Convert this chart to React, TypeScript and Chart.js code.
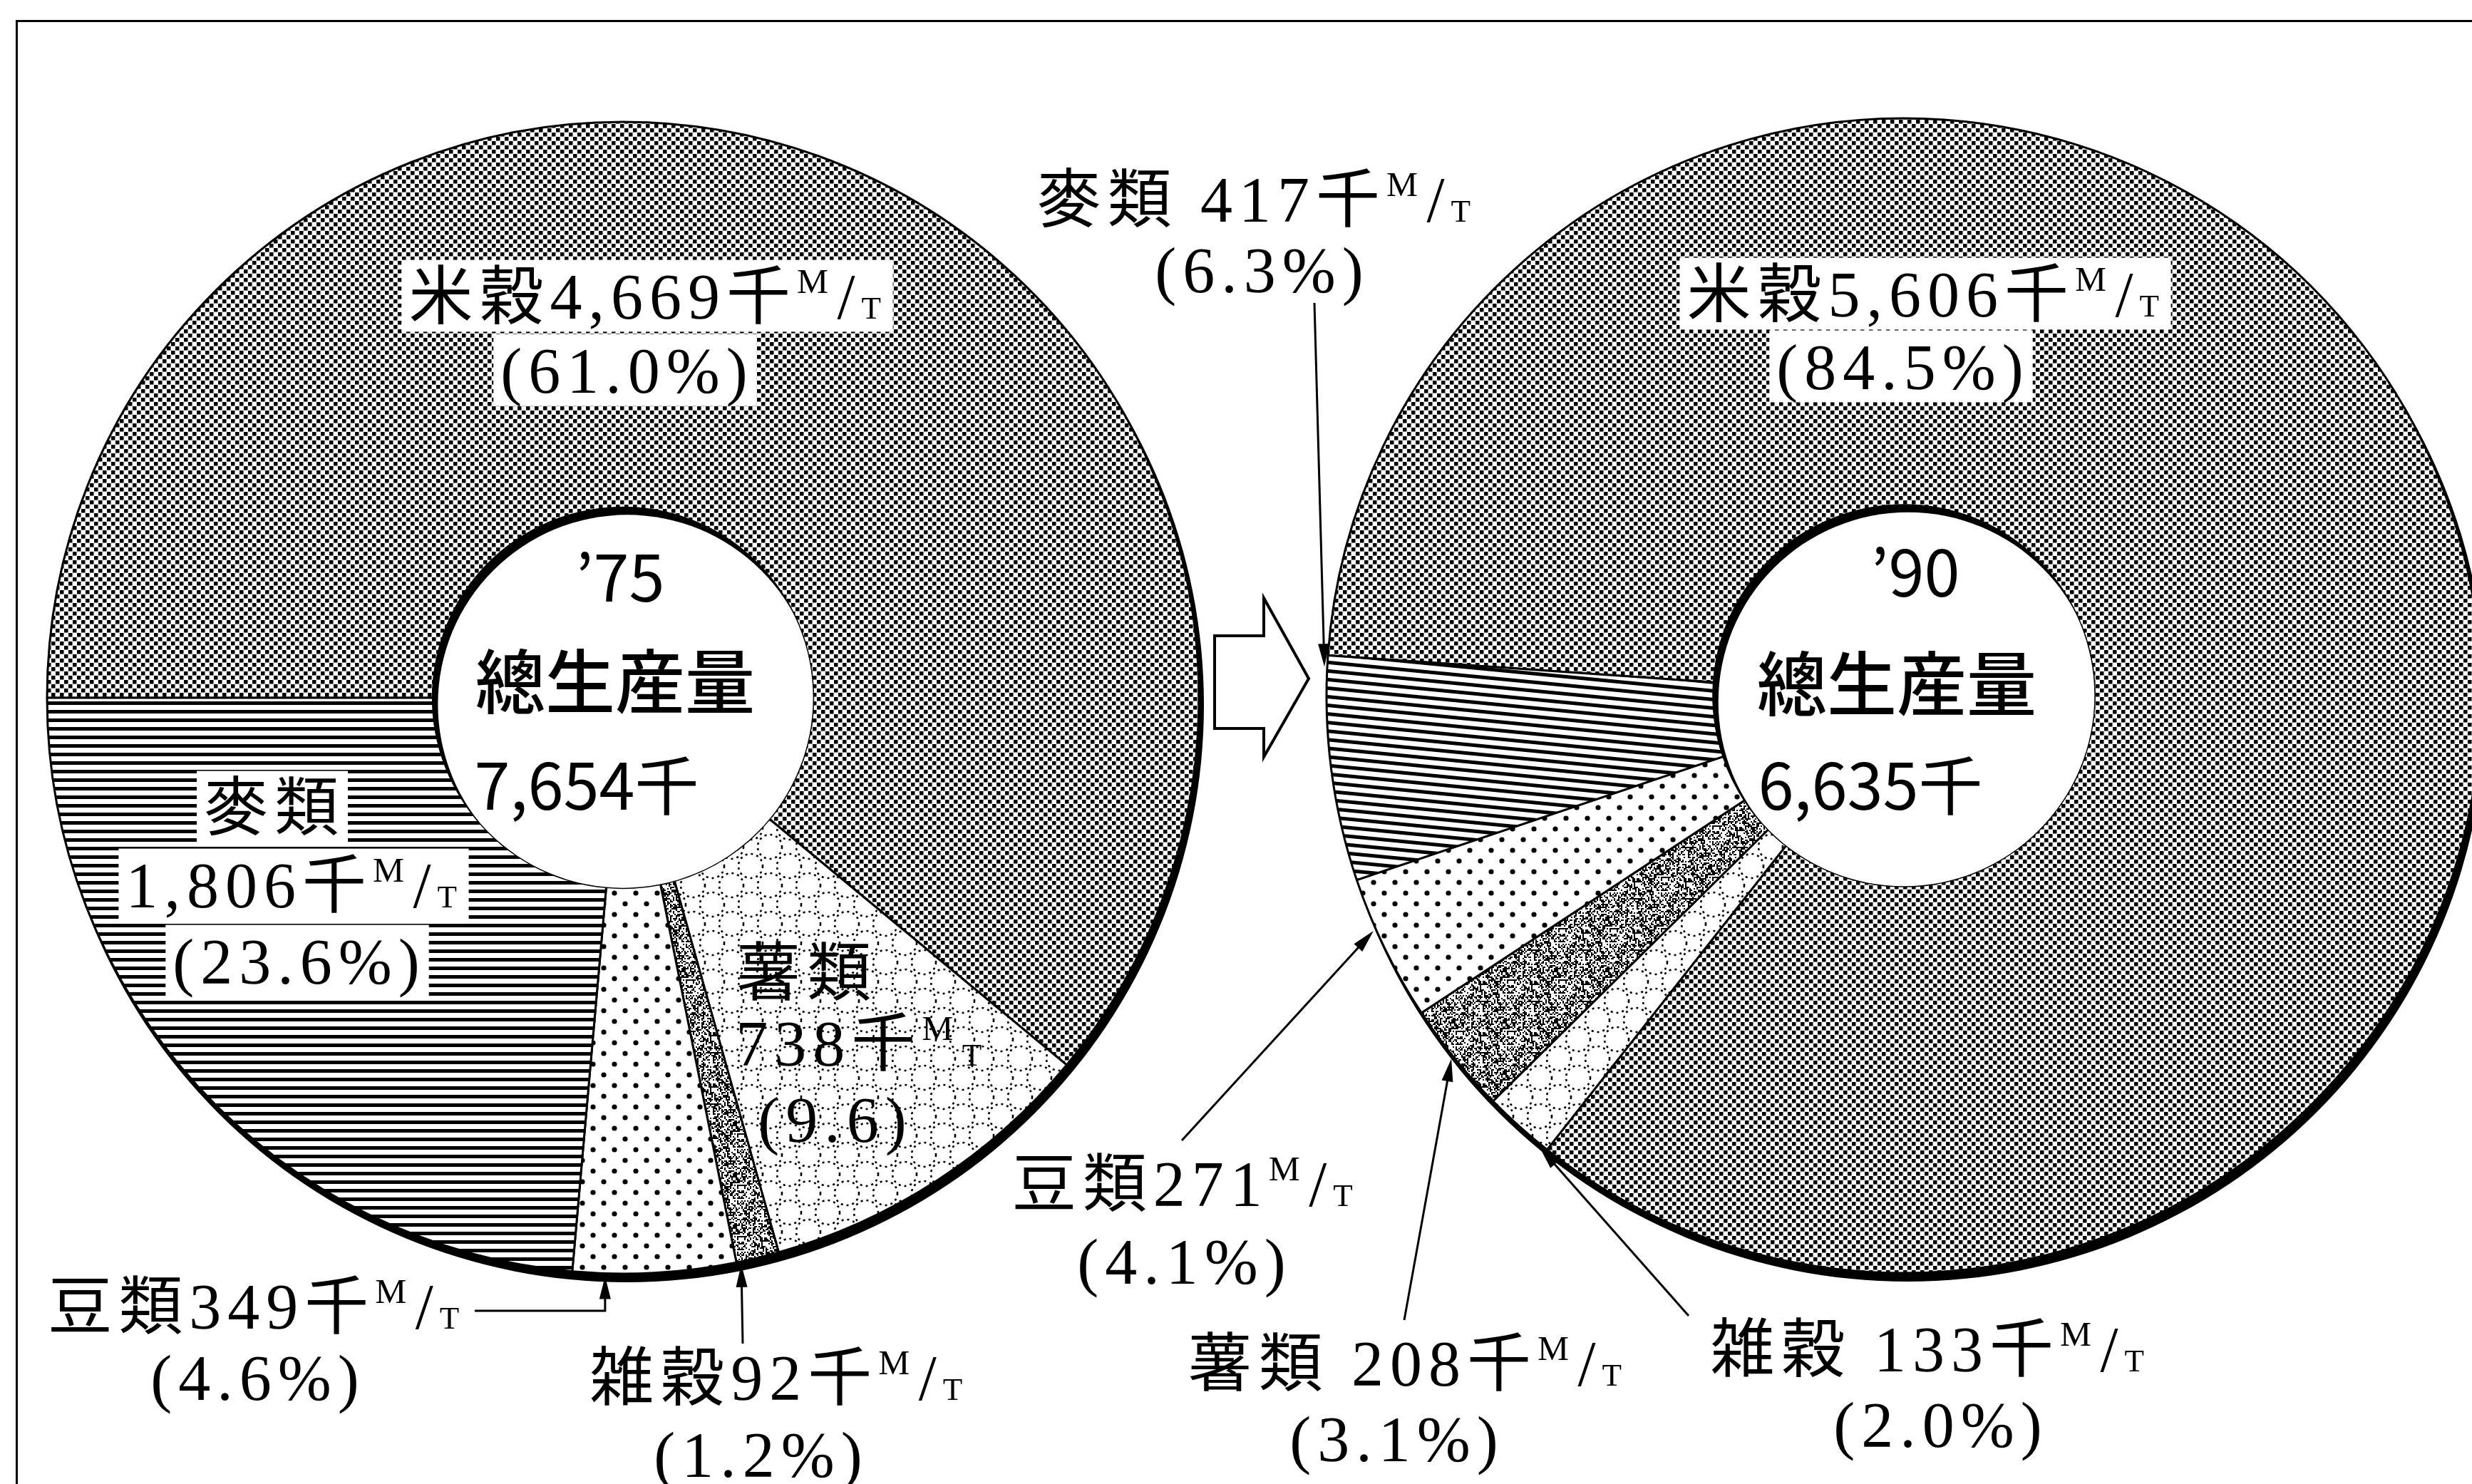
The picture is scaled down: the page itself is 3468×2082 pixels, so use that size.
import React, { useEffect, useRef } from 'react';
import { Chart, registerables } from 'chart.js';

Chart.register(...registerables);

const W = 3468;
const H = 2082;

// ---- '75 data (thousand metric tons), clockwise from 9 o'clock ----
const categories75 = ['米穀', '薯類', '雑穀', '豆類', '麥類'];
const values75 = [4669, 738, 92, 349, 1806];
const shares75 = [61.0, 9.6, 1.2, 4.6, 23.6];
const year75 = '’75';
const total75 = '7,654千';

// ---- '90 data ----
const categories90 = ['米穀', '雑穀', '薯類', '豆類', '麥類'];
const values90 = [5606, 133, 208, 271, 417];
const shares90 = [84.5, 2.0, 3.1, 4.1, 6.3];
const year90 = '’90';
const total90 = '6,635千';

const centerTitle = '總生産量';

const SERIF = '"Liberation Serif", "Noto Sans CJK JP", serif';
const SANS = '"Noto Sans CJK JP", "Noto Sans", sans-serif';

// ---------- pattern helpers ----------
function tile(w: number, h: number, draw: (c: CanvasRenderingContext2D) => void) {
  const cv = document.createElement('canvas');
  cv.width = w;
  cv.height = h;
  const c = cv.getContext('2d')!;
  c.fillStyle = '#fff';
  c.fillRect(0, 0, w, h);
  c.fillStyle = '#000';
  c.strokeStyle = '#000';
  draw(c);
  return cv;
}

function hash2(x: number, y: number, s: number) {
  let h = Math.imul(x, 374761393) ^ Math.imul(y, 668265263) ^ Math.imul(s, 1442695041);
  h = Math.imul(h ^ (h >>> 13), 1274126177);
  h ^= h >>> 16;
  return (h >>> 0) / 4294967296;
}

function makePatterns(ctx: CanvasRenderingContext2D, stripeAngle: number) {
  const rice = ctx.createPattern(
    tile(12, 12, (c) => {
      c.fillRect(0, 0, 5.5, 5.5);
      c.fillRect(6, 6, 5.5, 5.5);
    }),
    'repeat'
  )!;
  const circles = ctx.createPattern(
    tile(54, 54, (c) => {
      c.lineWidth = 2.6;
      c.setLineDash([3, 5]);
      const pts = [
        [27, 27],
        [0, 0],
        [54, 0],
        [0, 54],
        [54, 54],
      ];
      for (const [x, y] of pts) {
        c.beginPath();
        c.arc(x, y, 17, 0, Math.PI * 2);
        c.stroke();
      }
    }),
    'repeat'
  )!;
  const stipple = ctx.createPattern(
    tile(72, 72, (c) => {
      for (let i = 0; i < 36; i++)
        for (let j = 0; j < 36; j++) if (hash2(i, j, 7) < 0.46) c.fillRect(i * 2, j * 2, 2, 2);
    }),
    'repeat'
  )!;
  const dots = ctx.createPattern(
    tile(30, 30, (c) => {
      for (const [x, y] of [
        [7, 8],
        [22, 23],
      ]) {
        c.beginPath();
        c.arc(x, y, 3.6, 0, Math.PI * 2);
        c.fill();
      }
    }),
    'repeat'
  )!;
  const stripes = ctx.createPattern(
    tile(12, 12, (c) => {
      c.fillRect(0, 0, 12, 5);
    }),
    'repeat'
  )!;
  if (stripeAngle) stripes.setTransform(new DOMMatrix().rotateSelf(stripeAngle));
  return [rice, circles, stipple, dots, stripes];
}

// ---------- text helpers ----------
type Run = { t: string; k: 'n' | 'sup' | 'sub' };
function parseRuns(s: string): Run[] {
  const runs: Run[] = [];
  for (let i = 0; i < s.length; i++) {
    const ch = s[i];
    if (ch === '^') runs.push({ t: s[++i], k: 'sup' });
    else if (ch === '_') runs.push({ t: s[++i], k: 'sub' });
    else if (runs.length && runs[runs.length - 1].k === 'n') runs[runs.length - 1].t += ch;
    else runs.push({ t: ch, k: 'n' });
  }
  return runs;
}

function drawRuns(
  ctx: CanvasRenderingContext2D,
  s: string,
  cx: number,
  cy: number,
  size: number,
  box: boolean
) {
  const runs = parseRuns(s);
  const fontFor = (k: Run['k']) => `${k === 'n' ? size : k === 'sup' ? size * 0.55 : size * 0.5}px ${SERIF}`;
  ctx.save();
  (ctx as any).letterSpacing = '9px';
  const widths: number[] = [];
  let total = 0;
  for (const r of runs) {
    ctx.font = fontFor(r.k);
    const w = ctx.measureText(r.t).width + (r.k !== 'n' ? size * 0.04 : 0);
    widths.push(w);
    total += w;
  }
  let x = cx - total / 2;
  const base = cy + size * 0.36;
  if (box) {
    ctx.fillStyle = '#fff';
    ctx.fillRect(x - 10, cy - size * 0.56, total + 14, size * 1.12);
  }
  ctx.fillStyle = '#000';
  ctx.textAlign = 'left';
  ctx.textBaseline = 'alphabetic';
  runs.forEach((r, i) => {
    ctx.font = fontFor(r.k);
    const dy = r.k === 'sup' ? -size * 0.4 : 0;
    ctx.fillText(r.t, x, base + dy);
    x += widths[i];
  });
  ctx.restore();
}

function arrowTo(ctx: CanvasRenderingContext2D, pts: number[][]) {
  ctx.save();
  ctx.strokeStyle = '#000';
  ctx.fillStyle = '#000';
  ctx.lineWidth = 3;
  const n = pts.length;
  const [tx, ty] = pts[n - 1];
  const [px, py] = pts[n - 2];
  const ang = Math.atan2(ty - py, tx - px);
  const L = 32;
  const hw = 8;
  ctx.beginPath();
  ctx.moveTo(pts[0][0], pts[0][1]);
  for (let i = 1; i < n - 1; i++) ctx.lineTo(pts[i][0], pts[i][1]);
  ctx.lineTo(tx - Math.cos(ang) * L * 0.8, ty - Math.sin(ang) * L * 0.8);
  ctx.stroke();
  ctx.beginPath();
  ctx.moveTo(tx, ty);
  ctx.lineTo(tx - Math.cos(ang) * L - Math.sin(ang) * hw, ty - Math.sin(ang) * L + Math.cos(ang) * hw);
  ctx.lineTo(tx - Math.cos(ang) * L + Math.sin(ang) * hw, ty - Math.sin(ang) * L - Math.cos(ang) * hw);
  ctx.closePath();
  ctx.fill();
  ctx.restore();
}

// ---------- label layout (offsets from the ring centre) ----------
type LabelCfg = {
  split?: boolean;
  gap?: boolean;
  noThousand?: boolean;
  unit?: string;
  noPct?: boolean;
  box?: boolean;
  lines: number[][];
  arrow?: { from: number[]; t: number; elbow?: boolean };
};

const labels75: LabelCfg[] = [
  { box: true, lines: [[37, -564], [6, -460]] },
  { split: true, unit: '^M_T', noPct: true, lines: [[258, 385], [337, 484], [298, 591]] },
  { lines: [[221, 953], [194, 1061]], arrow: { from: [168, 906], t: 0.9 } },
  { lines: [[-512, 853], [-512, 953]], arrow: { from: [-208, 860], t: 0.8, elbow: true } },
  { split: true, box: true, lines: [[-489, 153], [-459, 262], [-454, 369]] },
];

const labels90: LabelCfg[] = [
  { box: true, lines: [[33, -564], [-1, -462]] },
  { gap: true, lines: [[39, 916], [52, 1022]], arrow: { from: [-302, 870], t: 0.1 } },
  { gap: true, lines: [[-694, 936], [-711, 1042]], arrow: { from: [-701, 876], t: 0.52 } },
  { noThousand: true, lines: [[-1006, 684], [-1009, 793]], arrow: { from: [-1013, 624], t: 0.64 } },
  { gap: true, lines: [[-906, -697], [-900, -598]], arrow: { from: [-827, -551], t: 0.95 } },
];

const centre75 = [[-4, -169], [-11, -23], [-51, 123]];
const centre90 = [[16, -173], [-10, -17], [-47, 126]];

function labelLines(name: string, value: number, share: number, cfg: LabelCfg) {
  const num = value.toLocaleString('en-US') + (cfg.noThousand ? '' : '千') + (cfg.unit ?? '^M/_T');
  const pct = '(' + share.toFixed(1) + (cfg.noPct ? '' : '%') + ')';
  if (cfg.split) return [name, num, pct];
  return [name + (cfg.gap ? ' ' : '') + num, pct];
}

function overlayPlugin(
  id: string,
  cats: string[],
  vals: number[],
  shares: number[],
  cfgs: LabelCfg[],
  centre: number[][],
  year: string,
  total: string,
  drawBlockArrow: boolean
) {
  return {
    id,
    beforeDatasetsDraw(chart: any) {
      const a = chart.getDatasetMeta(0).data[0];
      const ctx: CanvasRenderingContext2D = chart.ctx;
      ctx.save();
      ctx.fillStyle = '#000';
      ctx.beginPath();
      ctx.arc(a.x + 5, a.y + 10, a.outerRadius + 2, 0, Math.PI * 2);
      ctx.fill();
      ctx.restore();
    },
    afterDatasetsDraw(chart: any) {
      const meta = chart.getDatasetMeta(0);
      const a0 = meta.data[0];
      const cx = a0.x;
      const cy = a0.y;
      const ri = a0.innerRadius;
      const ro = a0.outerRadius;
      const ctx: CanvasRenderingContext2D = chart.ctx;
      // hole with its heavy upper-left edge
      ctx.save();
      ctx.beginPath();
      ctx.arc(cx, cy, ri, 0, Math.PI * 2);
      ctx.clip();
      ctx.fillStyle = '#000';
      ctx.fillRect(cx - ri - 2, cy - ri - 2, ri * 2 + 4, ri * 2 + 4);
      ctx.fillStyle = '#fff';
      ctx.beginPath();
      ctx.arc(cx + 6, cy + 9, ri - 1, 0, Math.PI * 2);
      ctx.fill();
      ctx.restore();

      // centre text
      ctx.save();
      ctx.fillStyle = '#000';
      ctx.textAlign = 'center';
      ctx.textBaseline = 'middle';
      ctx.font = `400 90px ${SANS}`;
      ctx.fillText(year, cx + centre[0][0], cy + centre[0][1]);
      ctx.font = `500 98px ${SANS}`;
      ctx.fillText(centerTitle, cx + centre[1][0], cy + centre[1][1]);
      ctx.font = `400 90px ${SANS}`;
      ctx.fillText(total, cx + centre[2][0], cy + centre[2][1]);
      ctx.restore();

      // labels & leader arrows
      cfgs.forEach((cfg, i) => {
        const lines = labelLines(cats[i], vals[i], shares[i], cfg);
        lines.forEach((s, k) => {
          drawRuns(ctx, s, cx + cfg.lines[k][0], cy + cfg.lines[k][1], 90, !!cfg.box);
        });
        if (cfg.arrow) {
          const arc = meta.data[i];
          const ang = arc.startAngle + cfg.arrow.t * (arc.endAngle - arc.startAngle);
          const tip = [cx + (ro + 4) * Math.cos(ang), cy + (ro + 4) * Math.sin(ang)];
          const start = [cx + cfg.arrow.from[0], cy + cfg.arrow.from[1]];
          const pts = cfg.arrow.elbow ? [start, [tip[0], start[1]], tip] : [start, tip];
          arrowTo(ctx, pts);
        }
      });

      if (drawBlockArrow) {
        ctx.save();
        ctx.lineWidth = 4;
        ctx.strokeStyle = '#000';
        ctx.fillStyle = '#fff';
        ctx.lineJoin = 'miter';
        ctx.beginPath();
        ctx.moveTo(1704, 892);
        ctx.lineTo(1773, 892);
        ctx.lineTo(1773, 839);
        ctx.lineTo(1836, 952);
        ctx.lineTo(1773, 1062);
        ctx.lineTo(1773, 1022);
        ctx.lineTo(1704, 1022);
        ctx.closePath();
        ctx.fill();
        ctx.stroke();
        ctx.restore();
      }
    },
  };
}

function buildChart(
  canvas: HTMLCanvasElement,
  cats: string[],
  vals: number[],
  shares: number[],
  cfgs: LabelCfg[],
  centre: number[][],
  year: string,
  total: string,
  rotation: number,
  radius: number,
  padding: { left: number; right: number; top: number; bottom: number },
  stripeAngle: number,
  blockArrow: boolean
) {
  const ctx = canvas.getContext('2d')!;
  const patterns = makePatterns(ctx, stripeAngle);
  return new Chart(canvas, {
    type: 'doughnut',
    data: {
      labels: cats,
      datasets: [
        {
          data: vals,
          backgroundColor: patterns as any,
          borderColor: '#000',
          borderWidth: 3,
          clip: false as any,
        },
      ],
    },
    options: {
      responsive: false,
      animation: false,
      events: [],
      rotation,
      radius,
      cutout: '33%',
      layout: { padding },
      plugins: { legend: { display: false }, tooltip: { enabled: false } },
    } as any,
    plugins: [overlayPlugin('ov' + year, cats, vals, shares, cfgs, centre, year, total, blockArrow)],
  });
}

export default function App() {
  const ref1 = useRef<HTMLCanvasElement>(null);
  const ref2 = useRef<HTMLCanvasElement>(null);

  useEffect(() => {
    document.body.style.margin = '0';
    document.body.style.overflow = 'hidden';
    const c1 = buildChart(
      ref1.current!,
      categories75,
      values75,
      shares75,
      labels75,
      centre75,
      year75,
      total75,
      270,
      808,
      { left: 24, right: 1744, top: 129, bottom: 253 },
      0,
      false
    );
    const c2 = buildChart(
      ref2.current!,
      categories90,
      values90,
      shares90,
      labels90,
      centre90,
      year90,
      total90,
      274,
      810,
      { left: 1921, right: 47, top: 226, bottom: 356 },
      5.5,
      true
    );
    return () => {
      c1.destroy();
      c2.destroy();
    };
  }, []);

  const cs: React.CSSProperties = { position: 'absolute', left: 0, top: 0, width: W, height: H };
  return (
    <div style={{ position: 'absolute', left: 0, top: 0, width: W, height: H, background: '#fff', overflow: 'hidden' }}>
      <div
        style={{
          position: 'absolute',
          left: 22,
          top: 28,
          width: W,
          height: H,
          borderTop: '3px solid #000',
          borderLeft: '3px solid #000',
        }}
      />
      <canvas ref={ref1} width={W} height={H} style={cs} />
      <canvas ref={ref2} width={W} height={H} style={cs} />
    </div>
  );
}
